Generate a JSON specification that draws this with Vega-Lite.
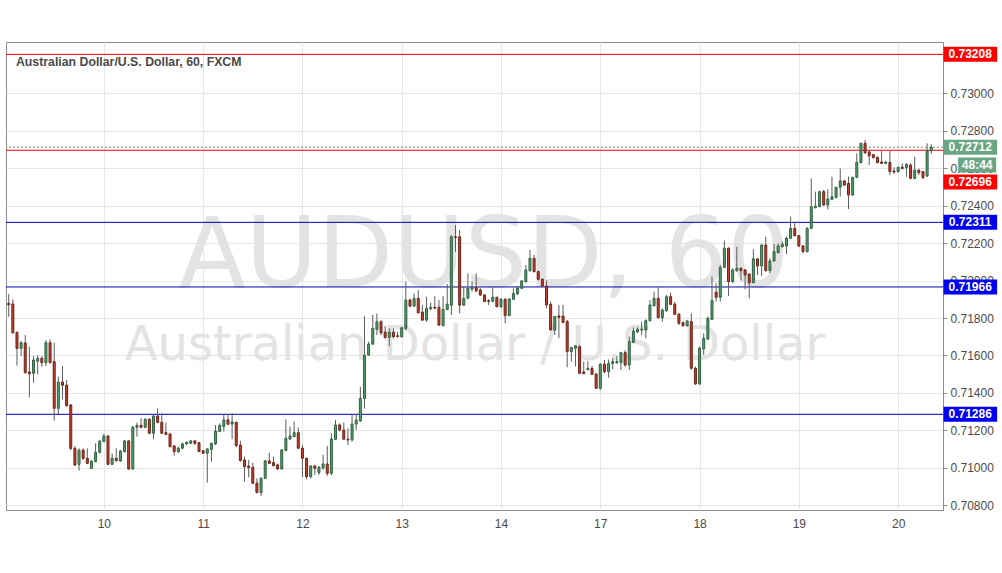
{
  "$schema": "https://vega.github.io/schema/vega-lite/v6.json",
  "autosize": "none",
  "width": 937,
  "height": 468,
  "padding": {"left": 6, "top": 42, "right": 59, "bottom": 63},
  "background": "#ffffff",
  "config": {"view": {"stroke": "#8c8c8c", "strokeWidth": 1}, "font": "Liberation Sans"},
  "datasets": {
    "candles": [
      {"i":0,"o":0.71878,"h":0.71928,"l":0.71807,"c":0.71871},
      {"i":1,"o":0.71875,"h":0.71900,"l":0.71715,"c":0.71722},
      {"i":2,"o":0.71724,"h":0.71727,"l":0.71546,"c":0.71638},
      {"i":3,"o":0.71638,"h":0.71677,"l":0.71597,"c":0.71668},
      {"i":4,"o":0.71667,"h":0.71709,"l":0.71505,"c":0.71508},
      {"i":5,"o":0.71512,"h":0.71647,"l":0.71376,"c":0.71503},
      {"i":6,"o":0.71505,"h":0.71597,"l":0.71455,"c":0.71576},
      {"i":7,"o":0.71570,"h":0.71602,"l":0.71499,"c":0.71585},
      {"i":8,"o":0.71585,"h":0.71597,"l":0.71540,"c":0.71562},
      {"i":9,"o":0.71562,"h":0.71683,"l":0.71544,"c":0.71668},
      {"i":10,"o":0.71668,"h":0.71686,"l":0.71558,"c":0.71562},
      {"i":11,"o":0.71567,"h":0.71668,"l":0.71252,"c":0.71318},
      {"i":12,"o":0.71318,"h":0.71487,"l":0.71287,"c":0.71458},
      {"i":13,"o":0.71458,"h":0.71544,"l":0.71366,"c":0.71441},
      {"i":14,"o":0.71442,"h":0.71469,"l":0.71327,"c":0.71332},
      {"i":15,"o":0.71336,"h":0.71341,"l":0.71095,"c":0.71104},
      {"i":16,"o":0.71104,"h":0.71117,"l":0.71012,"c":0.71015},
      {"i":17,"o":0.71019,"h":0.71104,"l":0.70985,"c":0.71095},
      {"i":18,"o":0.71095,"h":0.71104,"l":0.71042,"c":0.71051},
      {"i":19,"o":0.71051,"h":0.71104,"l":0.71020,"c":0.71024},
      {"i":20,"o":0.70997,"h":0.71042,"l":0.70994,"c":0.71035},
      {"i":21,"o":0.71033,"h":0.71131,"l":0.71030,"c":0.71083},
      {"i":22,"o":0.71083,"h":0.71149,"l":0.71077,"c":0.71143},
      {"i":23,"o":0.71140,"h":0.71181,"l":0.71138,"c":0.71170},
      {"i":24,"o":0.71170,"h":0.71175,"l":0.71015,"c":0.71019},
      {"i":25,"o":0.71019,"h":0.71077,"l":0.71015,"c":0.71051},
      {"i":26,"o":0.71051,"h":0.71104,"l":0.71033,"c":0.71038},
      {"i":27,"o":0.71037,"h":0.71096,"l":0.71033,"c":0.71090},
      {"i":28,"o":0.71087,"h":0.71149,"l":0.71081,"c":0.71144},
      {"i":29,"o":0.71144,"h":0.71149,"l":0.70989,"c":0.70994},
      {"i":30,"o":0.70994,"h":0.71224,"l":0.70990,"c":0.71217},
      {"i":31,"o":0.71217,"h":0.71242,"l":0.71167,"c":0.71227},
      {"i":32,"o":0.71227,"h":0.71265,"l":0.71211,"c":0.71217},
      {"i":33,"o":0.71217,"h":0.71265,"l":0.71211,"c":0.71259},
      {"i":34,"o":0.71259,"h":0.71265,"l":0.71179,"c":0.71185},
      {"i":35,"o":0.71185,"h":0.71283,"l":0.71153,"c":0.71277},
      {"i":36,"o":0.71277,"h":0.71318,"l":0.71238,"c":0.71243},
      {"i":37,"o":0.71243,"h":0.71291,"l":0.71181,"c":0.71185},
      {"i":38,"o":0.71188,"h":0.71242,"l":0.71176,"c":0.71179},
      {"i":39,"o":0.71181,"h":0.71185,"l":0.71110,"c":0.71113},
      {"i":40,"o":0.71117,"h":0.71122,"l":0.71065,"c":0.71087},
      {"i":41,"o":0.71087,"h":0.71113,"l":0.71078,"c":0.71105},
      {"i":42,"o":0.71105,"h":0.71135,"l":0.71099,"c":0.71128},
      {"i":43,"o":0.71128,"h":0.71140,"l":0.71122,"c":0.71137},
      {"i":44,"o":0.71131,"h":0.71149,"l":0.71128,"c":0.71144},
      {"i":45,"o":0.71144,"h":0.71149,"l":0.71122,"c":0.71131},
      {"i":46,"o":0.71135,"h":0.71138,"l":0.71085,"c":0.71087},
      {"i":47,"o":0.71092,"h":0.71096,"l":0.71074,"c":0.71078},
      {"i":48,"o":0.71078,"h":0.71105,"l":0.70921,"c":0.71101},
      {"i":49,"o":0.71099,"h":0.71135,"l":0.71033,"c":0.71131},
      {"i":50,"o":0.71128,"h":0.71229,"l":0.71122,"c":0.71197},
      {"i":51,"o":0.71194,"h":0.71238,"l":0.71193,"c":0.71226},
      {"i":52,"o":0.71220,"h":0.71283,"l":0.71194,"c":0.71256},
      {"i":53,"o":0.71256,"h":0.71288,"l":0.71229,"c":0.71233},
      {"i":54,"o":0.71234,"h":0.71291,"l":0.71153,"c":0.71245},
      {"i":55,"o":0.71243,"h":0.71247,"l":0.71110,"c":0.71119},
      {"i":56,"o":0.71122,"h":0.71145,"l":0.71033,"c":0.71039},
      {"i":57,"o":0.71042,"h":0.71060,"l":0.70927,"c":0.71007},
      {"i":58,"o":0.71010,"h":0.71042,"l":0.70950,"c":0.71001},
      {"i":59,"o":0.71003,"h":0.71028,"l":0.70914,"c":0.70918},
      {"i":60,"o":0.70918,"h":0.70944,"l":0.70864,"c":0.70868},
      {"i":61,"o":0.70868,"h":0.70950,"l":0.70850,"c":0.70944},
      {"i":62,"o":0.70944,"h":0.71042,"l":0.70939,"c":0.71037},
      {"i":63,"o":0.71037,"h":0.71081,"l":0.71021,"c":0.71024},
      {"i":64,"o":0.71028,"h":0.71060,"l":0.71007,"c":0.71012},
      {"i":65,"o":0.71016,"h":0.71024,"l":0.70989,"c":0.70994},
      {"i":66,"o":0.70994,"h":0.71099,"l":0.70990,"c":0.71096},
      {"i":67,"o":0.71092,"h":0.71259,"l":0.71090,"c":0.71158},
      {"i":68,"o":0.71154,"h":0.71220,"l":0.71149,"c":0.71170},
      {"i":69,"o":0.71167,"h":0.71247,"l":0.71163,"c":0.71188},
      {"i":70,"o":0.71188,"h":0.71215,"l":0.71101,"c":0.71105},
      {"i":71,"o":0.71105,"h":0.71122,"l":0.70950,"c":0.71051},
      {"i":72,"o":0.71051,"h":0.71055,"l":0.70939,"c":0.70953},
      {"i":73,"o":0.70953,"h":0.71014,"l":0.70944,"c":0.71010},
      {"i":74,"o":0.71010,"h":0.71016,"l":0.70962,"c":0.70998},
      {"i":75,"o":0.70975,"h":0.71010,"l":0.70962,"c":0.71003},
      {"i":76,"o":0.71000,"h":0.71069,"l":0.70989,"c":0.71021},
      {"i":77,"o":0.71021,"h":0.71117,"l":0.70957,"c":0.70971},
      {"i":78,"o":0.70971,"h":0.71185,"l":0.70962,"c":0.71154},
      {"i":79,"o":0.71153,"h":0.71256,"l":0.71149,"c":0.71229},
      {"i":80,"o":0.71229,"h":0.71238,"l":0.71194,"c":0.71202},
      {"i":81,"o":0.71202,"h":0.71242,"l":0.71149,"c":0.71153},
      {"i":82,"o":0.71153,"h":0.71211,"l":0.71122,"c":0.71149},
      {"i":83,"o":0.71149,"h":0.71282,"l":0.71140,"c":0.71234},
      {"i":84,"o":0.71234,"h":0.71282,"l":0.71202,"c":0.71255},
      {"i":85,"o":0.71251,"h":0.71433,"l":0.71246,"c":0.71371},
      {"i":86,"o":0.71371,"h":0.71810,"l":0.71317,"c":0.71602},
      {"i":87,"o":0.71602,"h":0.71673,"l":0.71597,"c":0.71661},
      {"i":88,"o":0.71661,"h":0.71816,"l":0.71656,"c":0.71745},
      {"i":89,"o":0.71739,"h":0.71825,"l":0.71709,"c":0.71780},
      {"i":90,"o":0.71780,"h":0.71789,"l":0.71709,"c":0.71721},
      {"i":91,"o":0.71725,"h":0.71757,"l":0.71691,"c":0.71696},
      {"i":92,"o":0.71696,"h":0.71745,"l":0.71650,"c":0.71725},
      {"i":93,"o":0.71725,"h":0.71745,"l":0.71691,"c":0.71700},
      {"i":94,"o":0.71705,"h":0.71727,"l":0.71696,"c":0.71702},
      {"i":95,"o":0.71700,"h":0.71753,"l":0.71696,"c":0.71748},
      {"i":96,"o":0.71745,"h":0.71994,"l":0.71736,"c":0.71896},
      {"i":97,"o":0.71896,"h":0.71905,"l":0.71857,"c":0.71864},
      {"i":98,"o":0.71864,"h":0.71931,"l":0.71860,"c":0.71905},
      {"i":99,"o":0.71905,"h":0.71949,"l":0.71825,"c":0.71828},
      {"i":100,"o":0.71832,"h":0.71869,"l":0.71785,"c":0.71789},
      {"i":101,"o":0.71789,"h":0.71914,"l":0.71780,"c":0.71851},
      {"i":102,"o":0.71850,"h":0.71882,"l":0.71842,"c":0.71857},
      {"i":103,"o":0.71857,"h":0.71917,"l":0.71846,"c":0.71853},
      {"i":104,"o":0.71857,"h":0.71896,"l":0.71759,"c":0.71762},
      {"i":105,"o":0.71759,"h":0.71917,"l":0.71757,"c":0.71846},
      {"i":106,"o":0.71846,"h":0.71981,"l":0.71842,"c":0.71874},
      {"i":107,"o":0.71869,"h":0.72243,"l":0.71816,"c":0.72234},
      {"i":108,"o":0.72234,"h":0.72296,"l":0.72154,"c":0.72230},
      {"i":109,"o":0.72234,"h":0.72270,"l":0.71825,"c":0.71869},
      {"i":110,"o":0.71869,"h":0.71967,"l":0.71864,"c":0.71905},
      {"i":111,"o":0.71906,"h":0.72039,"l":0.71900,"c":0.71959},
      {"i":112,"o":0.71955,"h":0.71995,"l":0.71941,"c":0.71963},
      {"i":113,"o":0.71963,"h":0.72039,"l":0.71936,"c":0.71946},
      {"i":114,"o":0.71950,"h":0.71959,"l":0.71918,"c":0.71923},
      {"i":115,"o":0.71923,"h":0.71927,"l":0.71886,"c":0.71888},
      {"i":116,"o":0.71893,"h":0.71900,"l":0.71870,"c":0.71889},
      {"i":117,"o":0.71889,"h":0.71963,"l":0.71886,"c":0.71911},
      {"i":118,"o":0.71911,"h":0.71914,"l":0.71857,"c":0.71861},
      {"i":119,"o":0.71861,"h":0.71906,"l":0.71852,"c":0.71900},
      {"i":120,"o":0.71900,"h":0.71906,"l":0.71772,"c":0.71813},
      {"i":121,"o":0.71813,"h":0.71906,"l":0.71811,"c":0.71902},
      {"i":122,"o":0.71900,"h":0.71959,"l":0.71897,"c":0.71932},
      {"i":123,"o":0.71929,"h":0.71968,"l":0.71923,"c":0.71959},
      {"i":124,"o":0.71959,"h":0.72003,"l":0.71954,"c":0.71998},
      {"i":125,"o":0.71995,"h":0.72083,"l":0.71989,"c":0.72057},
      {"i":126,"o":0.72053,"h":0.72164,"l":0.72048,"c":0.72119},
      {"i":127,"o":0.72119,"h":0.72137,"l":0.72043,"c":0.72048},
      {"i":128,"o":0.72048,"h":0.72053,"l":0.72000,"c":0.72007},
      {"i":129,"o":0.72007,"h":0.72012,"l":0.71968,"c":0.71971},
      {"i":130,"o":0.71971,"h":0.72000,"l":0.71852,"c":0.71870},
      {"i":131,"o":0.71873,"h":0.71888,"l":0.71733,"c":0.71736},
      {"i":132,"o":0.71736,"h":0.71811,"l":0.71710,"c":0.71808},
      {"i":133,"o":0.71811,"h":0.71870,"l":0.71692,"c":0.71804},
      {"i":134,"o":0.71811,"h":0.71870,"l":0.71772,"c":0.71777},
      {"i":135,"o":0.71781,"h":0.71790,"l":0.71537,"c":0.71621},
      {"i":136,"o":0.71621,"h":0.71647,"l":0.71567,"c":0.71642},
      {"i":137,"o":0.71639,"h":0.71656,"l":0.71541,"c":0.71651},
      {"i":138,"o":0.71647,"h":0.71656,"l":0.71501,"c":0.71505},
      {"i":139,"o":0.71512,"h":0.71567,"l":0.71501,"c":0.71503},
      {"i":140,"o":0.71524,"h":0.71570,"l":0.71522,"c":0.71531},
      {"i":141,"o":0.71531,"h":0.71544,"l":0.71496,"c":0.71499},
      {"i":142,"o":0.71501,"h":0.71505,"l":0.71421,"c":0.71425},
      {"i":143,"o":0.71425,"h":0.71558,"l":0.71416,"c":0.71554},
      {"i":144,"o":0.71554,"h":0.71576,"l":0.71505,"c":0.71514},
      {"i":145,"o":0.71514,"h":0.71579,"l":0.71482,"c":0.71558},
      {"i":146,"o":0.71558,"h":0.71585,"l":0.71526,"c":0.71567},
      {"i":147,"o":0.71562,"h":0.71597,"l":0.71554,"c":0.71567},
      {"i":148,"o":0.71562,"h":0.71620,"l":0.71522,"c":0.71615},
      {"i":149,"o":0.71615,"h":0.71629,"l":0.71540,"c":0.71549},
      {"i":150,"o":0.71549,"h":0.71700,"l":0.71522,"c":0.71674},
      {"i":151,"o":0.71670,"h":0.71749,"l":0.71668,"c":0.71731},
      {"i":152,"o":0.71727,"h":0.71750,"l":0.71718,"c":0.71741},
      {"i":153,"o":0.71736,"h":0.71781,"l":0.71709,"c":0.71741},
      {"i":154,"o":0.71736,"h":0.71793,"l":0.71692,"c":0.71786},
      {"i":155,"o":0.71786,"h":0.71896,"l":0.71781,"c":0.71870},
      {"i":156,"o":0.71866,"h":0.71941,"l":0.71861,"c":0.71905},
      {"i":157,"o":0.71905,"h":0.71964,"l":0.71798,"c":0.71802},
      {"i":158,"o":0.71802,"h":0.71852,"l":0.71781,"c":0.71843},
      {"i":159,"o":0.71839,"h":0.71923,"l":0.71834,"c":0.71914},
      {"i":160,"o":0.71914,"h":0.71935,"l":0.71868,"c":0.71873},
      {"i":161,"o":0.71875,"h":0.71887,"l":0.71816,"c":0.71820},
      {"i":162,"o":0.71821,"h":0.71825,"l":0.71763,"c":0.71772},
      {"i":163,"o":0.71775,"h":0.71781,"l":0.71754,"c":0.71759},
      {"i":164,"o":0.71759,"h":0.71789,"l":0.71754,"c":0.71784},
      {"i":165,"o":0.71781,"h":0.71825,"l":0.71523,"c":0.71532},
      {"i":166,"o":0.71532,"h":0.71541,"l":0.71443,"c":0.71448},
      {"i":167,"o":0.71448,"h":0.71647,"l":0.71443,"c":0.71639},
      {"i":168,"o":0.71635,"h":0.71719,"l":0.71603,"c":0.71692},
      {"i":169,"o":0.71688,"h":0.71808,"l":0.71683,"c":0.71799},
      {"i":170,"o":0.71793,"h":0.72021,"l":0.71790,"c":0.71893},
      {"i":171,"o":0.71938,"h":0.71986,"l":0.71888,"c":0.71911},
      {"i":172,"o":0.71911,"h":0.72084,"l":0.71888,"c":0.72071},
      {"i":173,"o":0.72071,"h":0.72213,"l":0.72066,"c":0.72173},
      {"i":174,"o":0.72173,"h":0.72178,"l":0.71918,"c":0.71995},
      {"i":175,"o":0.71995,"h":0.72066,"l":0.71986,"c":0.72057},
      {"i":176,"o":0.72053,"h":0.72181,"l":0.72048,"c":0.72066},
      {"i":177,"o":0.72066,"h":0.72071,"l":0.72000,"c":0.72053},
      {"i":178,"o":0.72057,"h":0.72060,"l":0.71954,"c":0.72030},
      {"i":179,"o":0.72035,"h":0.72039,"l":0.71906,"c":0.71989},
      {"i":180,"o":0.71989,"h":0.72167,"l":0.71986,"c":0.72116},
      {"i":181,"o":0.72116,"h":0.72119,"l":0.72030,"c":0.72078},
      {"i":182,"o":0.72078,"h":0.72194,"l":0.72025,"c":0.72190},
      {"i":183,"o":0.72190,"h":0.72235,"l":0.72048,"c":0.72053},
      {"i":184,"o":0.72053,"h":0.72119,"l":0.72039,"c":0.72105},
      {"i":185,"o":0.72105,"h":0.72196,"l":0.72101,"c":0.72155},
      {"i":186,"o":0.72149,"h":0.72199,"l":0.72146,"c":0.72185},
      {"i":187,"o":0.72181,"h":0.72208,"l":0.72176,"c":0.72194},
      {"i":188,"o":0.72185,"h":0.72235,"l":0.72142,"c":0.72226},
      {"i":189,"o":0.72226,"h":0.72342,"l":0.72221,"c":0.72279},
      {"i":190,"o":0.72279,"h":0.72306,"l":0.72235,"c":0.72240},
      {"i":191,"o":0.72240,"h":0.72244,"l":0.72178,"c":0.72185},
      {"i":192,"o":0.72185,"h":0.72190,"l":0.72146,"c":0.72155},
      {"i":193,"o":0.72155,"h":0.72285,"l":0.72149,"c":0.72279},
      {"i":194,"o":0.72279,"h":0.72546,"l":0.72274,"c":0.72395},
      {"i":195,"o":0.72389,"h":0.72475,"l":0.72386,"c":0.72398},
      {"i":196,"o":0.72395,"h":0.72480,"l":0.72391,"c":0.72475},
      {"i":197,"o":0.72475,"h":0.72484,"l":0.72398,"c":0.72404},
      {"i":198,"o":0.72404,"h":0.72487,"l":0.72380,"c":0.72436},
      {"i":199,"o":0.72434,"h":0.72555,"l":0.72430,"c":0.72448},
      {"i":200,"o":0.72444,"h":0.72501,"l":0.72439,"c":0.72498},
      {"i":201,"o":0.72498,"h":0.72599,"l":0.72448,"c":0.72532},
      {"i":202,"o":0.72532,"h":0.72537,"l":0.72505,"c":0.72510},
      {"i":203,"o":0.72519,"h":0.72555,"l":0.72382,"c":0.72457},
      {"i":204,"o":0.72457,"h":0.72555,"l":0.72453,"c":0.72551},
      {"i":205,"o":0.72551,"h":0.72679,"l":0.72546,"c":0.72631},
      {"i":206,"o":0.72630,"h":0.72736,"l":0.72626,"c":0.72733},
      {"i":207,"o":0.72733,"h":0.72751,"l":0.72676,"c":0.72683},
      {"i":208,"o":0.72687,"h":0.72694,"l":0.72617,"c":0.72667},
      {"i":209,"o":0.72672,"h":0.72676,"l":0.72653,"c":0.72656},
      {"i":210,"o":0.72658,"h":0.72662,"l":0.72626,"c":0.72630},
      {"i":211,"o":0.72633,"h":0.72694,"l":0.72622,"c":0.72626},
      {"i":212,"o":0.72626,"h":0.72638,"l":0.72621,"c":0.72633},
      {"i":213,"o":0.72631,"h":0.72694,"l":0.72564,"c":0.72582},
      {"i":214,"o":0.72585,"h":0.72605,"l":0.72569,"c":0.72580},
      {"i":215,"o":0.72582,"h":0.72608,"l":0.72576,"c":0.72605},
      {"i":216,"o":0.72605,"h":0.72626,"l":0.72594,"c":0.72599},
      {"i":217,"o":0.72603,"h":0.72626,"l":0.72555,"c":0.72621},
      {"i":218,"o":0.72617,"h":0.72626,"l":0.72541,"c":0.72546},
      {"i":219,"o":0.72546,"h":0.72662,"l":0.72541,"c":0.72590},
      {"i":220,"o":0.72590,"h":0.72597,"l":0.72564,"c":0.72576},
      {"i":221,"o":0.72582,"h":0.72585,"l":0.72541,"c":0.72551},
      {"i":222,"o":0.72558,"h":0.72733,"l":0.72555,"c":0.72694},
      {"i":223,"o":0.72694,"h":0.72729,"l":0.72676,"c":0.72712}
    ],
    "levels": [
      {"price": 0.73208, "zone": "resistance"},
      {"price": 0.72696, "zone": "resistance"},
      {"price": 0.72311, "zone": "support"},
      {"price": 0.71966, "zone": "support"},
      {"price": 0.71286, "zone": "support"}
    ],
    "last": [{"price": 0.72712, "countdown": "48:44"}],
    "notes": [{"watermark": "AUDUSD, 60", "subtitle": "Australian Dollar / U.S. Dollar", "title": "Australian Dollar/U.S. Dollar, 60, FXCM"}]
  },
  "layer": [
    {
      "data": {"name": "notes"},
      "mark": {"type": "text", "font": "DejaVu Sans", "fontSize": 98, "color": "#e3e3e3", "align": "center", "baseline": "alphabetic"},
      "encoding": {
        "x": {"datum": 114.9, "type": "quantitative"},
        "y": {"datum": 0.71966, "type": "quantitative"},
        "text": {"field": "watermark"}
      }
    },
    {
      "data": {"name": "notes"},
      "mark": {"type": "text", "font": "DejaVu Sans", "fontSize": 48, "color": "#e3e3e3", "align": "center", "baseline": "alphabetic"},
      "encoding": {
        "x": {"datum": 112.7, "type": "quantitative"},
        "y": {"datum": 0.71576, "type": "quantitative"},
        "text": {"field": "subtitle"}
      }
    },
    {
      "data": {"name": "notes"},
      "mark": {"type": "text", "font": "Liberation Sans", "fontSize": 12.3, "fontWeight": "bold", "color": "#4a4a4a", "align": "left", "baseline": "alphabetic"},
      "encoding": {
        "x": {"datum": 1.76, "type": "quantitative"},
        "y": {"datum": 0.73146, "type": "quantitative"},
        "text": {"field": "title"}
      }
    },
    {
      "data": {"name": "levels"},
      "mark": {"type": "rule", "strokeWidth": 1},
      "encoding": {
        "y": {"field": "price", "type": "quantitative"},
        "color": {"condition": {"test": "datum.zone == 'resistance'", "value": "#ee0000"}, "value": "#0000a8"}
      }
    },
    {
      "data": {"name": "last"},
      "mark": {"type": "rule", "strokeWidth": 1, "strokeDash": [2, 2], "color": "#5e9e7c"},
      "encoding": {
        "y": {"field": "price", "type": "quantitative"}
      }
    },
    {
      "data": {"name": "candles"},
      "mark": {"type": "rule", "strokeWidth": 1, "color": "#5c5c5c"},
      "encoding": {
        "x": {"field": "i", "type": "quantitative",
          "scale": {"domain": [-0.653, 225.84], "nice": false, "zero": false, "padding": 0},
          "axis": {"title": null, "values": [23, 47, 71, 95, 119, 143, 167, 191, 215],
            "labelExpr": "datum.value == 23 ? '10' : datum.value == 47 ? '11' : datum.value == 71 ? '12' : datum.value == 95 ? '13' : datum.value == 119 ? '14' : datum.value == 143 ? '17' : datum.value == 167 ? '18' : datum.value == 191 ? '19' : '20'",
            "grid": true, "gridColor": "#e6e6e6", "domain": false, "ticks": false, "labelPadding": 8,
            "labelFontSize": 12, "labelColor": "#4a4a4a", "labelFont": "Liberation Sans"}},
        "y": {"field": "l", "type": "quantitative",
          "scale": {"domain": [0.70775, 0.73274], "nice": false, "zero": false, "padding": 0},
          "axis": {"title": null, "orient": "right",
            "values": [0.708, 0.71, 0.712, 0.714, 0.716, 0.718, 0.72, 0.722, 0.724, 0.726, 0.728, 0.73],
            "format": ".5f", "grid": true, "gridColor": "#e6e6e6", "domainColor": "#8c8c8c",
            "tickColor": "#8c8c8c", "tickSize": 4, "labelPadding": 3, "labelFontSize": 12,
            "labelColor": "#4a4a4a", "labelFont": "Liberation Sans"}},
        "y2": {"field": "h"}
      }
    },
    {
      "data": {"name": "candles"},
      "mark": {"type": "bar", "size": 2, "strokeWidth": 1},
      "encoding": {
        "x": {"field": "i", "type": "quantitative"},
        "y": {"field": "o", "type": "quantitative"},
        "y2": {"field": "c"},
        "fill": {"condition": {"test": "datum.c >= datum.o", "value": "#53a06c"}, "value": "#c0432f"},
        "stroke": {"condition": {"test": "datum.c >= datum.o", "value": "#2f6242"}, "value": "#6e2218"}
      }
    },
    {
      "data": {"name": "levels"},
      "transform": [{"filter": "datum.price != 0.72696"}],
      "mark": {"type": "bar", "orient": "horizontal", "size": 15},
      "encoding": {
        "x": {"datum": 225.96, "type": "quantitative"},
        "x2": {"datum": 238.92},
        "y": {"field": "price", "type": "quantitative"},
        "color": {"condition": {"test": "datum.zone == 'resistance'", "value": "#ff0000"}, "value": "#0000f0"}
      }
    },
    {
      "data": {"name": "levels"},
      "transform": [{"filter": "datum.price != 0.72696"}],
      "mark": {"type": "text", "font": "Liberation Sans", "fontSize": 12, "fontWeight": "bold", "color": "#ffffff", "align": "center", "baseline": "middle"},
      "encoding": {
        "x": {"datum": 232.4, "type": "quantitative"},
        "y": {"field": "price", "type": "quantitative"},
        "text": {"field": "price", "format": ".5f"}
      }
    },
    {
      "data": {"name": "levels"},
      "transform": [{"filter": "datum.price == 0.72696"}],
      "mark": {"type": "bar", "orient": "horizontal", "size": 15, "color": "#ff0000"},
      "encoding": {
        "x": {"datum": 225.96, "type": "quantitative"},
        "x2": {"datum": 238.92},
        "y": {"datum": 0.72526, "type": "quantitative"}
      }
    },
    {
      "data": {"name": "levels"},
      "transform": [{"filter": "datum.price == 0.72696"}],
      "mark": {"type": "text", "font": "Liberation Sans", "fontSize": 12, "fontWeight": "bold", "color": "#ffffff", "align": "center", "baseline": "middle"},
      "encoding": {
        "x": {"datum": 232.4, "type": "quantitative"},
        "y": {"datum": 0.72526, "type": "quantitative"},
        "text": {"field": "price", "format": ".5f"}
      }
    },
    {
      "data": {"name": "last"},
      "mark": {"type": "bar", "orient": "horizontal", "size": 15, "color": "#6aa584"},
      "encoding": {
        "x": {"datum": 225.96, "type": "quantitative"},
        "x2": {"datum": 238.92},
        "y": {"field": "price", "type": "quantitative"}
      }
    },
    {
      "data": {"name": "last"},
      "mark": {"type": "text", "font": "Liberation Sans", "fontSize": 12, "fontWeight": "bold", "color": "#ffffff", "align": "center", "baseline": "middle"},
      "encoding": {
        "x": {"datum": 232.4, "type": "quantitative"},
        "y": {"field": "price", "type": "quantitative"},
        "text": {"field": "price", "format": ".5f"}
      }
    },
    {
      "data": {"name": "last"},
      "mark": {"type": "bar", "orient": "horizontal", "size": 15, "color": "#6aa584"},
      "encoding": {
        "x": {"datum": 229.5, "type": "quantitative"},
        "x2": {"datum": 238.7},
        "y": {"datum": 0.72617, "type": "quantitative"}
      }
    },
    {
      "data": {"name": "last"},
      "mark": {"type": "text", "font": "Liberation Sans", "fontSize": 12, "fontWeight": "bold", "color": "#ffffff", "align": "center", "baseline": "middle"},
      "encoding": {
        "x": {"datum": 234.1, "type": "quantitative"},
        "y": {"datum": 0.72617, "type": "quantitative"},
        "text": {"field": "countdown"}
      }
    }
  ]
}
